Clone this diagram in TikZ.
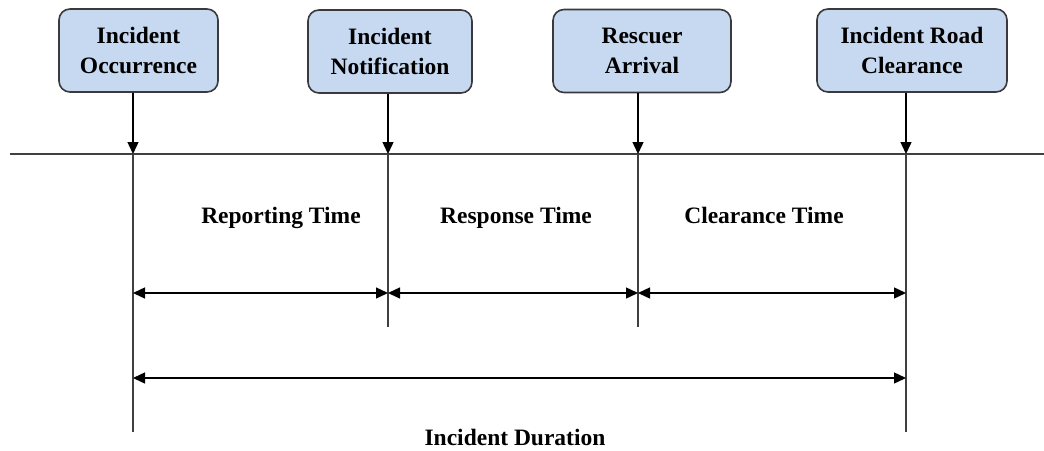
\documentclass[tikz,border=0pt]{standalone}
\usepackage{fontspec}
\setmainfont{Liberation Serif}
\usetikzlibrary{arrows.meta}
\definecolor{boxfill}{HTML}{C6D9F1}
\definecolor{boxedge}{HTML}{3A3A3A}
\definecolor{linegray}{HTML}{404040}
\tikzset{
  event/.style={draw=boxedge, line width=1.6pt, fill=boxfill, rounded corners=11pt,
    minimum height=83pt, inner sep=0pt, align=center,
    font=\bfseries\fontsize{23.5}{30}\selectfont},
  label/.style={font=\bfseries\fontsize{23.5}{28}\selectfont, inner sep=0pt, anchor=base},
  tip/.style={-{Triangle[width=11pt,length=12pt]}},
  conn/.style={draw=black, line width=1.4pt},
  rule/.style={draw=linegray, line width=1.8pt},
  span/.style={draw=black, line width=1.4pt, {Triangle[width=11pt,length=12pt]}-{Triangle[width=11pt,length=12pt]}}
}
\begin{document}
\begin{tikzpicture}[x=1pt, y=-1pt]
\useasboundingbox (0,0) rectangle (1044,450);

% event boxes
\node[event, minimum width=159pt] (b1) at (138.5,50.5) {Incident\\Occurrence};
\node[event, minimum width=164pt] (b2) at (390,51.5) {Incident\\Notification};
\node[event, minimum width=178pt] (b3) at (642,51) {Rescuer\\Arrival};
\node[event, minimum width=190pt] (b4) at (912,50.5) {Incident Road\\Clearance};

% time axis and the instants on it
\coordinate (L) at (10,154);
\coordinate (R) at (1044,154);
\coordinate (t1) at (133,154);
\coordinate (t2) at (388,154);
\coordinate (t3) at (638,154);
\coordinate (t4) at (906,154);
\coordinate (e1) at (133,432);
\coordinate (e2) at (388,327);
\coordinate (e3) at (638,327);
\coordinate (e4) at (906,432);

\draw[rule] (L) -- (R);

% event markers down to the axis
\draw[conn, tip] (b1.south -| t1) -- (t1);
\draw[conn, tip] (b2.south -| t2) -- (t2);
\draw[conn, tip] (b3.south -| t3) -- (t3);
\draw[conn, tip] (b4.south -| t4) -- (t4);

% guide lines below the axis
\draw[rule] (t1) -- (e1);
\draw[rule] (t2) -- (e2);
\draw[rule] (t3) -- (e3);
\draw[rule] (t4) -- (e4);

% interval spans
\coordinate (s1) at (133,293);
\coordinate (s2) at (388,293);
\coordinate (s3) at (638,293);
\coordinate (s4) at (906,293);
\draw[span] (s1) -- (s2);
\draw[span] (s2) -- (s3);
\draw[span] (s3) -- (s4);

\coordinate (d1) at (133,378);
\coordinate (d4) at (906,378);
\draw[span] (d1) -- (d4);

% interval names
\node[label] (lr) at (281,223) {Reporting Time};
\node[label] (lp) at (516,223) {Response Time};
\node[label] (lc) at (764,223) {Clearance Time};
\node[label] (ld) at (515,445) {Incident Duration};
\end{tikzpicture}
\end{document}
